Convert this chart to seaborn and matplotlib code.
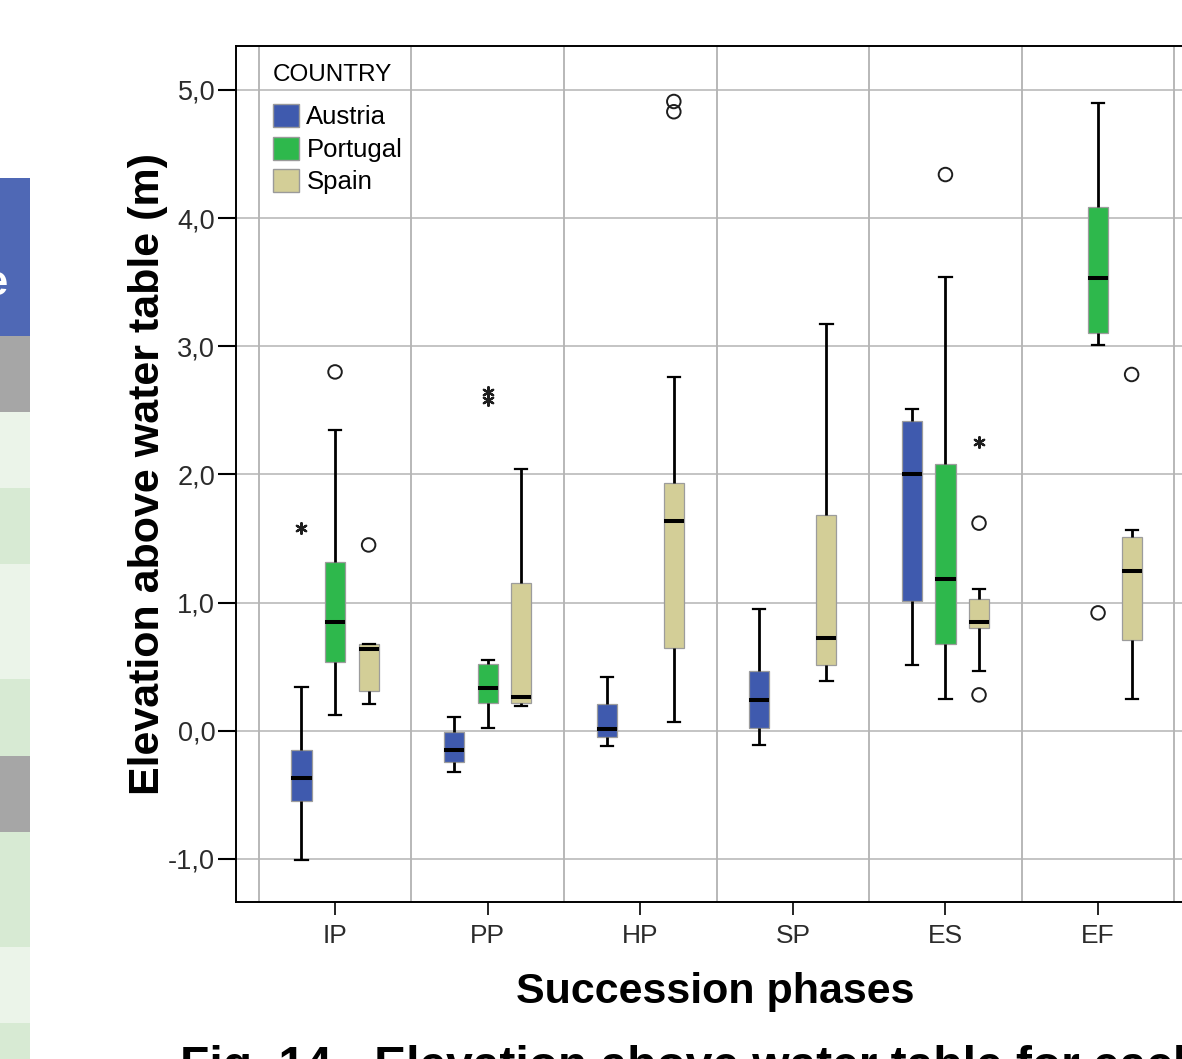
import numpy as np
import pandas as pd
import matplotlib.pyplot as plt
from matplotlib.patches import Patch, Rectangle
import seaborn as sns

plt.rcParams['font.family'] = ['Liberation Sans', 'DejaVu Sans']

phases = ["IP", "PP", "HP", "SP", "ES", "EF"]
countries = ["Austria", "Portugal", "Spain"]
colors = ["#3F5AAE", "#2EB84C", "#D3CE97"]

# five-number summaries
box_phase = ["IP", "IP", "IP", "PP", "PP", "PP", "HP", "HP",
             "SP", "SP", "ES", "ES", "ES", "EF", "EF"]
box_country = ["Austria", "Portugal", "Spain", "Austria", "Portugal", "Spain",
               "Austria", "Spain", "Austria", "Spain",
               "Austria", "Portugal", "Spain", "Portugal", "Spain"]
whisker_low = [-1.01, 0.12, 0.21, -0.32, 0.02, 0.19, -0.12, 0.07,
               -0.11, 0.39, 0.51, 0.25, 0.47, 3.01, 0.25]
q1 = [-0.55, 0.54, 0.31, -0.24, 0.22, 0.22, -0.05, 0.645,
      0.02, 0.51, 1.01, 0.675, 0.80, 3.10, 0.71]
median = [-0.37, 0.85, 0.64, -0.15, 0.335, 0.265, 0.013, 1.635,
          0.24, 0.72, 2.00, 1.185, 0.85, 3.53, 1.25]
q3 = [-0.15, 1.32, 0.68, -0.01, 0.52, 1.15, 0.21, 1.93,
      0.47, 1.68, 2.42, 2.08, 1.03, 4.09, 1.51]
whisker_high = [0.34, 2.35, 0.68, 0.107, 0.553, 2.04, 0.42, 2.76,
                0.947, 3.17, 2.51, 3.54, 1.107, 4.90, 1.566]

# outliers (o) and extremes (*)
out_phase = ["IP", "IP", "IP", "PP", "PP", "HP", "HP",
             "ES", "ES", "ES", "ES", "EF", "EF"]
out_country = ["Austria", "Portugal", "Spain", "Portugal", "Portugal", "Spain", "Spain",
               "Portugal", "Spain", "Spain", "Spain", "Portugal", "Spain"]
out_value = [1.58, 2.80, 1.45, 2.64, 2.58, 4.91, 4.83,
             4.34, 2.25, 1.62, 0.28, 0.92, 2.78]
out_kind = ["extreme", "outlier", "outlier", "extreme", "extreme", "outlier", "outlier",
            "outlier", "extreme", "outlier", "outlier", "outlier", "outlier"]

# long table: the five summary values of every box
rows = []
for i in range(len(box_phase)):
    for v in (whisker_low[i], q1[i], median[i], q3[i], whisker_high[i]):
        rows.append({"phase": box_phase[i], "country": box_country[i], "value": v})
df = pd.DataFrame(rows)

W, H = 1182, 1059
fig = plt.figure(figsize=(W / 100, H / 100), dpi=100)
ax = fig.add_axes([236 / W, 1 - 902 / H, 961.4 / W, 856 / H])

box_width = 0.66
sns.boxplot(data=df, x="phase", y="value", hue="country",
            order=phases, hue_order=countries, palette=colors,
            saturation=1, width=box_width, gap=0.4, whis=(0, 100),
            showfliers=False, linecolor="black", legend=False, capwidths=0.08,
            boxprops=dict(edgecolor="#9c9c9c", linewidth=0.9),
            whiskerprops=dict(color="black", linewidth=2.0),
            capprops=dict(color="black", linewidth=1.6),
            medianprops=dict(color="black", linewidth=2.9),
            ax=ax, zorder=3)

# outlier marks at the dodged box positions
step = box_width / len(countries)
out_x = np.array([phases.index(p) + (countries.index(c) - 1) * step
                  for p, c in zip(out_phase, out_country)])
kind = np.array(out_kind)
vals = np.array(out_value)
sns.scatterplot(x=out_x[kind == "outlier"], y=vals[kind == "outlier"], ax=ax,
                marker="o", s=95, facecolor="none", edgecolor="#1e1e1e",
                linewidth=1.4, zorder=4)
sns.scatterplot(x=out_x[kind == "extreme"], y=vals[kind == "extreme"], ax=ax,
                marker=(6, 2, 0), s=60, color="#1e1e1e", linewidth=1.6, zorder=4)

ax.set_xlim(-0.649, 5.651)
ax.set_ylim(-1.336, 5.343)
yt = np.arange(-1, 6)
ax.set_yticks(yt)
ax.set_yticklabels([f"{v:.1f}".replace(".", ",") for v in yt])
ax.set_xticks(range(len(phases)))
ax.set_xticklabels(phases)
ax.set_xticks(np.arange(-0.5, len(phases), 1), minor=True)
ax.grid(axis="y", which="major", color="#b4b4b4", linewidth=1.1, zorder=0)
ax.grid(axis="x", which="minor", color="#a4a4a4", linewidth=1.1, zorder=0)
ax.grid(axis="x", which="major", visible=False)
ax.set_axisbelow(True)
ax.tick_params(axis="y", length=13, width=1.5, pad=2, labelsize=19.5, labelcolor="#2b2b2b")
ax.tick_params(axis="x", which="major", length=9, width=1.2, pad=7, labelsize=19, labelcolor="#2b2b2b")
ax.tick_params(axis="x", which="minor", length=0)
for s in ax.spines.values():
    s.set_color("black")
    s.set_linewidth(1.4)

ax.set_xlabel("Succession phases", fontsize=31, fontweight="bold", va="center")
ax.xaxis.set_label_coords(0.498, (902 - 992) / 856)
ax.set_ylabel("Elevation above water table (m)", fontsize=31, fontweight="bold", va="center")
ax.yaxis.set_label_coords((148 - 236) / 961.4, (902 - 474) / 856)

handles = [Patch(facecolor=c, edgecolor="#9a9a9a", linewidth=1.0) for c in colors]
leg = ax.legend(handles, countries, title="COUNTRY", loc="upper left",
                bbox_to_anchor=(273 / W, 1 - 64 / H), bbox_transform=fig.transFigure,
                frameon=False, fontsize=18.5, title_fontsize=17.5,
                handlelength=1.0, handleheight=1.0, handletextpad=0.3,
                labelspacing=0.28, borderpad=0, borderaxespad=0, alignment="left")
leg._legend_box.sep = 13

# strip of the neighbouring table on the left edge
cell_tops = [178, 336, 412, 488, 564, 679, 756, 832, 947, 1023]
cell_colors = ["#4F68B5", "#A6A6A6", "#EBF4E9", "#D7EAD3", "#EBF4E9",
               "#D7EAD3", "#A6A6A6", "#D7EAD3", "#EBF4E9", "#D7EAD3"]
cell_bottoms = cell_tops[1:] + [H]
for t, b, c in zip(cell_tops, cell_bottoms, cell_colors):
    fig.add_artist(Rectangle((0, 1 - b / H), 30 / W, (b - t) / H,
                             transform=fig.transFigure, facecolor=c, edgecolor="none"))
fig.text(8 / W, 1 - 284 / H, "e", ha="right", va="center", color="white",
         fontsize=30, fontweight="bold")

fig.text(180 / W, 1 - 1080 / H, "Fig. 14 - Elevation above water table for each",
         ha="left", va="baseline", fontsize=34.5, fontweight="bold")

fig.savefig("out.png", dpi=100)
